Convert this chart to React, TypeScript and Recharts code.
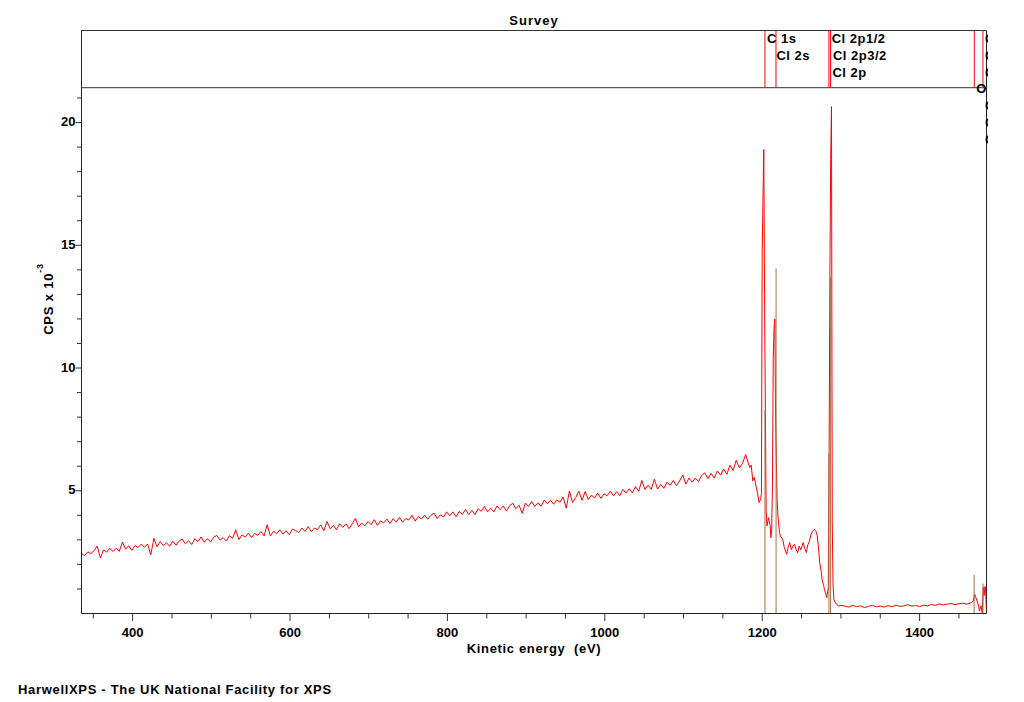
import { ComposedChart, Line, XAxis, YAxis, ReferenceLine } from 'recharts';

/**
 * XPS survey spectrum (HarwellXPS) — red trace, peak markers and a label panel on top.
 */

const CHART_W = 1024;
const CHART_H = 702;
const MARGIN = { top: 30.5, right: 37.5, bottom: 48.5, left: 21.5 };
const PLOT_RIGHT = CHART_W - MARGIN.right;
const FONT = '"Liberation Sans", Arial, Helvetica, sans-serif';

const X_MIN = 335;
const X_MAX = 1485;
const Y_MAX = 23.75; // top of the label panel
const PANEL_Y = 21.42; // divider between spectrum and label panel

// background region, 335..1179 eV every 4 eV (CPS x 10^-3)
const bgStartEv = 335;
const bgStepEv = 4;
const bgCps = [
    2.44, 2.36, 2.51, 2.44, 2.56, 2.75, 2.26, 2.59, 2.50, 2.66,
    2.52, 2.66, 2.53, 2.91, 2.62, 2.76, 2.57, 2.77, 2.69, 2.83,
    2.70, 2.83, 2.39, 3.06, 2.72, 2.93, 2.76, 2.88, 2.74, 2.95,
    2.78, 2.95, 3.03, 2.84, 2.96, 2.81, 3.05, 2.93, 3.12, 2.90,
    3.05, 2.91, 3.11, 3.18, 2.99, 3.09, 2.95, 3.17, 3.06, 3.41,
    3.01, 3.20, 3.11, 3.28, 3.09, 3.26, 3.18, 3.34, 3.16, 3.62,
    3.16, 3.35, 3.25, 3.41, 3.23, 3.37, 3.21, 3.44, 3.38, 3.30,
    3.48, 3.34, 3.54, 3.33, 3.48, 3.42, 3.61, 3.37, 3.75, 3.45,
    3.59, 3.41, 3.66, 3.51, 3.65, 3.46, 3.65, 3.88, 3.54, 3.68,
    3.57, 3.75, 3.62, 3.82, 3.59, 3.77, 3.69, 3.85, 3.67, 3.86,
    3.72, 3.92, 3.72, 3.87, 3.81, 4.00, 3.76, 3.95, 3.85, 4.01,
    3.84, 4.00, 4.09, 3.87, 4.02, 3.93, 4.14, 3.98, 4.14, 3.94,
    4.16, 4.04, 4.24, 4.03, 4.20, 4.03, 4.27, 4.16, 4.36, 4.14,
    4.28, 4.14, 4.38, 4.23, 4.38, 4.17, 4.39, 4.49, 4.27, 4.41,
    4.08, 4.50, 4.36, 4.56, 4.36, 4.51, 4.37, 4.62, 4.47, 4.61,
    4.45, 4.63, 4.53, 4.74, 4.29, 4.99, 4.52, 4.72, 4.98, 4.61,
    4.97, 4.64, 4.82, 4.71, 4.90, 4.69, 4.87, 4.80, 4.99, 4.79,
    4.96, 4.80, 5.06, 4.91, 5.08, 4.91, 5.17, 4.98, 5.42, 5.05,
    5.23, 5.06, 5.47, 5.07, 5.26, 5.10, 5.35, 5.22, 5.42, 5.21,
    5.40, 5.64, 5.27, 5.52, 5.35, 5.52, 5.37, 5.62, 5.73, 5.49,
    5.71, 5.52, 5.81, 5.64, 5.89, 5.67, 6.04, 5.83, 6.24, 5.93,
    6.12, 6.48,
];

// C 1s / Cl 2s / Cl 2p region, read point by point
const edgeEv = [
    1184, 1186, 1188, 1190, 1192, 1194, 1196, 1198, 1199, 1200,
    1201, 1202, 1203, 1204, 1205, 1206, 1208, 1210, 1211, 1212,
    1213, 1214, 1215, 1216, 1217, 1218, 1219, 1220, 1222, 1223,
    1226, 1228, 1231, 1233, 1235, 1237, 1239, 1241, 1243, 1245,
    1247, 1249, 1252, 1254, 1256, 1258, 1260, 1262, 1264, 1266,
    1268, 1270, 1272, 1273, 1275, 1276, 1278, 1279, 1281, 1282,
    1284, 1285, 1286, 1287, 1288, 1289, 1290, 1291, 1293, 1295,
    1297, 1300,
];
const edgeCps = [
    5.94, 6.05, 5.40, 5.55, 5.20, 4.90, 4.52, 4.65, 4.90, 14.7,
    17.0, 18.9, 13.0, 8.3, 4.20, 3.57, 3.90, 3.60, 3.09, 3.40,
    5.20, 10.4, 11.6, 12.0, 8.0, 6.2, 4.6, 3.97, 3.30, 3.16,
    3.03, 2.70, 2.41, 2.70, 2.89, 2.60, 2.75, 2.82, 2.62, 2.48,
    2.75, 2.60, 2.89, 2.65, 2.48, 2.80, 2.95, 3.23, 3.35, 3.43,
    3.38, 3.16, 2.50, 2.08, 1.70, 1.40, 1.15, 0.99, 0.75, 0.65,
    1.06, 6.5, 13.7, 18.5, 20.65, 3.7, 1.20, 0.58, 0.42, 0.38,
    0.30, 0.33,
];

// flat tail, 1305..1465 eV every 5 eV
const tailStartEv = 1305;
const tailStepEv = 5;
const tailCps = [
    0.30, 0.26, 0.33, 0.28, 0.31, 0.24, 0.29, 0.33, 0.27, 0.30,
    0.26, 0.32, 0.28, 0.34, 0.29, 0.31, 0.36, 0.30, 0.33, 0.28,
    0.34, 0.31, 0.37, 0.33, 0.39, 0.35, 0.38, 0.41, 0.36, 0.40,
    0.42, 0.38, 0.44,
];

// last few eV near the edge
const endEv = [1466, 1468, 1470, 1471, 1473, 1475, 1476, 1478, 1479.5, 1481, 1482, 1483, 1484, 1485];
const endCps = [0.45, 0.50, 0.79, 0.70, 0.51, 0.30, 0.10, 0.31, 0.04, 1.06, 0.73, 1.10, 0.92, 0.05];

// brown peak markers (position, height)
const markerEv = [1203.5, 1217.6, 1284.8, 1286.9, 1469.3, 1480.5];
const markerCps = [8.3, 14.05, 6.5, 13.7, 1.57, 1.22];

// red lines in the label panel
const annotLineEv = [1203.5, 1217.5, 1284.8, 1286.9, 1469.5, 1480.5];

// peak labels: energy of their line, text, row in panel
const labelEv = [1203.5, 1217.5, 1284.8, 1286.9, 1286.9, 1469.5, 1480.5, 1480.5, 1480.5, 1480.5, 1480.5, 1480.5];
const labelText = ['C 1s', 'Cl 2s', 'Cl 2p1/2', 'Cl 2p3/2', 'Cl 2p', 'O', 'O 1s', 'O 2s', 'O KLL', 'O KLL', 'O KLL', 'O KLL'];
const labelRow = [0, 1, 0, 1, 2, 3, 0, 1, 2, 4, 5, 6];
const labelDx = [2, 0.5, 2.7, 2.3, 1.8, 2, 2, 2, 2, 2, 2, 2];

const xTicks = [350, 400, 450, 500, 550, 600, 650, 700, 750, 800, 850, 900, 950, 1000, 1050, 1100, 1150, 1200, 1250, 1300, 1350, 1400, 1450];
const xMajor = [400, 600, 800, 1000, 1200, 1400];
const yTicks = [1, 2, 3, 4, 5, 6, 7, 8, 9, 10, 11, 12, 13, 14, 15, 16, 17, 18, 19, 20, 21];
const yMajor = [5, 10, 15, 20];

const spectrum = [
    ...bgCps.map((v, i) => ({ e: bgStartEv + i * bgStepEv, v })),
    ...edgeEv.map((e, i) => ({ e, v: edgeCps[i] })),
    ...tailCps.map((v, i) => ({ e: tailStartEv + i * tailStepEv, v })),
    ...endEv.map((e, i) => ({ e, v: endCps[i] })),
];

const txt = { fontFamily: FONT, fontWeight: 'bold' as const, fontSize: 13, fill: '#000' };

function XTick(props: any) {
    const { x, y, payload } = props;
    const major = xMajor.includes(payload.value);
    return (
        <g>
            <line x1={x} x2={x} y1={y} y2={y + (major ? 7.5 : 5)} stroke="#333" />
            {major && (
                <text x={x} y={y + 23.5} textAnchor="middle" {...txt}>
                    {payload.value}
                </text>
            )}
        </g>
    );
}

function YTick(props: any) {
    const { x, y, payload } = props;
    const major = yMajor.includes(payload.value);
    return (
        <g>
            <line x1={x - (major ? 6 : 4.5)} x2={x} y1={y} y2={y} stroke="#333" />
            {major && (
                <text x={x - 6} y={y + 3.5} textAnchor="end" {...txt}>
                    {payload.value}
                </text>
            )}
        </g>
    );
}

function panelLabel(i: number) {
    return (p: any) => {
        const vb = p.viewBox;
        const id = `lblclip${i}`;
        return (
            <g>
                <defs>
                    <clipPath id={id}>
                        <rect x={0} y={0} width={PLOT_RIGHT + 1.5} height={CHART_H} />
                    </clipPath>
                </defs>
                <text
                    clipPath={`url(#${id})`}
                    x={vb.x + labelDx[i]}
                    y={vb.y + 12.5 + labelRow[i] * 16.8}
                    letterSpacing={0.5}
                    {...txt}
                >
                    {labelText[i]}
                </text>
            </g>
        );
    };
}

export default function App() {
    return (
        <div style={{ position: 'absolute', left: 0, top: 0, width: CHART_W, height: CHART_H, background: '#fff', fontFamily: FONT }}>
            <ComposedChart width={CHART_W} height={CHART_H} data={spectrum} margin={MARGIN}>
                <XAxis
                    dataKey="e"
                    type="number"
                    domain={[X_MIN, X_MAX]}
                    allowDataOverflow
                    ticks={xTicks}
                    interval={0}
                    tickSize={0}
                    tickMargin={0}
                    tickLine={false}
                    tick={XTick}
                    height={40}
                    axisLine={{ stroke: '#222' }}
                    label={(p: any) => (
                        <text
                            x={p.viewBox.x + p.viewBox.width / 2}
                            y={p.viewBox.y + 39}
                            textAnchor="middle"
                            letterSpacing={0.65}
                            {...txt}
                        >
                            {'Kinetic energy\u00a0 (eV)'}
                        </text>
                    )}
                />
                <YAxis
                    type="number"
                    domain={[0, Y_MAX]}
                    allowDataOverflow
                    ticks={yTicks}
                    interval={0}
                    tickSize={0}
                    tickMargin={0}
                    tickLine={false}
                    tick={YTick}
                    width={60}
                    axisLine={{ stroke: '#222' }}
                    label={(p: any) => {
                        const cx = p.viewBox.x + 31.5;
                        const cy = p.viewBox.y + p.viewBox.height / 2 - 23;
                        return (
                            <text
                                x={cx}
                                y={cy}
                                transform={`rotate(-90, ${cx}, ${cy})`}
                                textAnchor="middle"
                                letterSpacing={0.8}
                                {...txt}
                            >
                                CPS x 10
                                <tspan dy={-10} fontSize={9}>
                                    -3
                                </tspan>
                            </text>
                        );
                    }}
                />

                {/* frame: top border, right border, panel divider */}
                <ReferenceLine
                    y={Y_MAX}
                    stroke="#333"
                    label={(p: any) => (
                        <text
                            x={p.viewBox.x + p.viewBox.width / 2}
                            y={p.viewBox.y - 6}
                            textAnchor="middle"
                            letterSpacing={1}
                            {...txt}
                        >
                            Survey
                        </text>
                    )}
                />
                <ReferenceLine x={X_MAX} stroke="#222" />
                <ReferenceLine y={PANEL_Y} stroke="#333" />

                {annotLineEv.map((e) => (
                    <ReferenceLine
                        key={`a${e}`}
                        segment={[
                            { x: e, y: PANEL_Y },
                            { x: e, y: Y_MAX },
                        ]}
                        stroke="#ff0000"
                    />
                ))}

                <Line
                    type="linear"
                    dataKey="v"
                    stroke="#ff0000"
                    strokeWidth={1}
                    dot={false}
                    activeDot={false}
                    isAnimationActive={false}
                />

                {markerEv.map((e, i) => (
                    <ReferenceLine
                        key={`m${e}`}
                        segment={[
                            { x: e, y: 0 },
                            { x: e, y: markerCps[i] },
                        ]}
                        stroke="#a8703f"
                    />
                ))}

                {labelEv.map((e, i) => (
                    <ReferenceLine
                        key={`l${i}`}
                        segment={[
                            { x: e, y: PANEL_Y },
                            { x: e, y: Y_MAX },
                        ]}
                        stroke="none"
                        label={panelLabel(i)}
                    />
                ))}
            </ComposedChart>
            <div
                style={{
                    position: 'absolute',
                    left: 18,
                    top: 681.5,
                    fontSize: 13,
                    lineHeight: '15px',
                    fontWeight: 'bold',
                    letterSpacing: '0.68px',
                    color: '#000',
                    whiteSpace: 'nowrap',
                }}
            >
                HarwellXPS - The UK National Facility for XPS
            </div>
        </div>
    );
}
